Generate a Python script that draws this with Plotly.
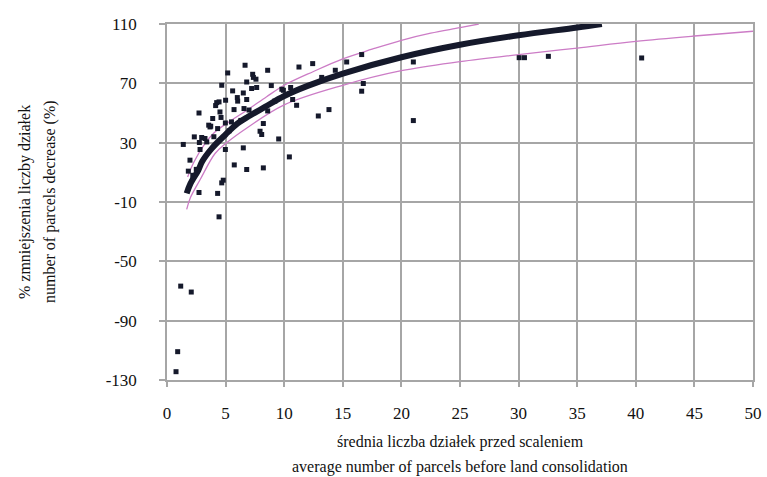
import plotly.graph_objects as go

# observed data points (average parcels before consolidation, % decrease)
obs_x = [6.66, 5.18, 8.59, 7.31, 7.59, 11.26, 12.43, 16.61, 15.33, 14.36, 21.02,
         4.67, 6.8, 7.22, 7.65, 8.9, 5.6, 6.51, 6.0, 6.8, 5.0, 4.24, 4.44, 9.93,
         10.55, 10.72, 11.06, 16.75, 16.61, 5.72, 6.57, 8.59, 2.73, 4.52, 3.9, 4.61,
         4.98, 3.56, 3.73, 4.32, 8.22, 12.91, 13.82, 21.02, 2.33, 2.96, 3.24, 2.76,
         1.39, 2.82, 4.98, 6.51, 7.94, 8.08, 9.53, 10.44, 1.96, 5.74, 6.8, 8.22,
         1.82, 4.67, 4.8, 2.73, 4.32, 4.44, 30.05, 30.5, 32.54, 40.5,
         1.17, 2.07, 0.91, 0.77, 4.15, 6.03, 7.37, 3.67, 3.39, 6.3, 5.3, 9.2, 2.5,
         4.0, 5.5, 7.0, 9.8, 13.2, 2.2]
obs_y = [82.2, 77.0, 78.8, 76.1, 72.8, 81.0, 83.3, 89.4, 84.4, 78.8, 84.4,
         68.7, 70.9, 66.5, 67.2, 68.5, 64.9, 63.5, 60.4, 59.1, 58.6, 57.0, 57.5, 65.3,
         67.2, 59.1, 55.2, 69.9, 64.7, 52.3, 53.0, 51.4, 50.0, 50.7, 46.3, 47.0,
         43.3, 41.8, 41.1, 39.5, 42.9, 48.0, 52.3, 44.9, 33.9, 33.5, 32.8, 30.1,
         28.8, 25.4, 25.4, 26.5, 37.7, 35.5, 32.5, 20.4, 18.2, 15.0, 11.9, 13.0,
         10.8, 2.9, 4.7, -3.6, -4.2, -20.0, 87.3, 87.3, 88.2, 87.1,
         -66.7, -70.7, -110.9, -124.4, 55.0, 58.0, 74.0, 40.6, 30.5, 45.0, 38.0, 58.0, 12.0,
         34.0, 44.0, 52.0, 66.0, 74.0, 8.0]

# fitted curve
fit_x = [1.68, 2.0, 2.67, 3.0, 3.81, 5.0, 6.0, 6.94, 8.36, 10.0, 12.0, 15.0, 20.0, 25.0, 30.0, 35.0, 37.1]
fit_y = [-4.2, 2.4, 11.4, 17.3, 26.0, 35.5, 42.8, 47.6, 54.1, 61.5, 68.3, 76.6, 87.6, 96.0, 102.4, 107.6, 110.0]

# upper and lower bands
upper_x = [1.76, 2.3, 3.24, 4.0, 5.0, 6.94, 8.5, 10.0, 12.5, 15.0, 17.5, 20.0, 22.5, 25.0, 26.6]
upper_y = [6.9, 17.0, 29.4, 36.5, 42.5, 52.5, 61.0, 68.7, 78.0, 86.5, 93.0, 99.0, 103.8, 107.5, 110.0]
lower_x = [1.68, 2.0, 2.82, 4.1, 5.0, 6.94, 10.0, 15.0, 20.0, 25.0, 30.0, 35.0, 40.0, 45.0, 50.0]
lower_y = [-15.0, -7.0, 5.0, 22.7, 29.4, 40.6, 55.5, 68.7, 78.5, 84.6, 89.4, 93.8, 98.3, 101.9, 105.1]

x_ticks = [0, 5, 10, 15, 20, 25, 30, 35, 40, 45, 50]
y_ticks = [-130, -90, -50, -10, 30, 70, 110]

dark = '#15192b'
pink = '#cc7cc6'
grid = '#a6a6a6'
font = 'Liberation Serif'

fig = go.Figure()
fig.add_trace(go.Scatter(x=lower_x, y=lower_y, mode='lines', line=dict(color=pink, width=1.3, shape='spline'),
                         hoverinfo='skip'))
fig.add_trace(go.Scatter(x=upper_x, y=upper_y, mode='lines', line=dict(color=pink, width=1.3, shape='spline'),
                         hoverinfo='skip'))
fig.add_trace(go.Scatter(x=obs_x, y=obs_y, mode='markers',
                         marker=dict(symbol='square', size=5, color=dark, line=dict(width=0))))
fig.add_trace(go.Scatter(x=fit_x, y=fit_y, mode='lines', line=dict(color=dark, width=6, shape='spline'),
                         cliponaxis=False))

fig.update_layout(
    width=767, height=477,
    margin=dict(l=167, r=14, t=24, b=97, autoexpand=False),
    paper_bgcolor='white', plot_bgcolor='white',
    showlegend=False,
    font=dict(family=font, size=17, color='#111111'),
)
fig.update_xaxes(range=[0, 50], tickvals=x_ticks, ticktext=[str(v) for v in x_ticks],
                 automargin=False,
                 showgrid=True, gridcolor=grid, gridwidth=1.5, zeroline=False,
                 showline=True, linecolor=grid, linewidth=1.5, mirror=True,
                 ticks='outside', ticklen=5, tickcolor=grid, tickwidth=1.5,
                 ticklabelstandoff=12, tickfont=dict(family=font, size=17))
fig.update_yaxes(range=[-130, 110], tickvals=y_ticks, ticktext=[str(v) for v in y_ticks],
                 automargin=False,
                 showgrid=True, gridcolor=grid, gridwidth=1.5, zeroline=False,
                 showline=True, linecolor=grid, linewidth=1.5, mirror=True,
                 ticks='outside', ticklen=6, tickcolor=grid, tickwidth=1.5,
                 ticklabelstandoff=19, tickfont=dict(family=font, size=17))

fig.add_annotation(text='średnia liczba działek przed scaleniem', xref='paper', yref='paper',
                   x=0.5, y=0, yshift=-62, showarrow=False, font=dict(family=font, size=16),
                   xanchor='center', yanchor='middle')
fig.add_annotation(text='average number of parcels before land consolidation', xref='paper', yref='paper',
                   x=0.5, y=0, yshift=-87, showarrow=False, font=dict(family=font, size=16),
                   xanchor='center', yanchor='middle')
fig.add_annotation(text='% zmniejszenia liczby działek', xref='paper', yref='paper',
                   x=0, y=0.5, xshift=-142, showarrow=False, textangle=-90,
                   font=dict(family=font, size=16), xanchor='center', yanchor='middle')
fig.add_annotation(text='number of parcels decrease (%)', xref='paper', yref='paper',
                   x=0, y=0.5, xshift=-117, showarrow=False, textangle=-90,
                   font=dict(family=font, size=16), xanchor='center', yanchor='middle')

fig.write_html('out.html', config={'displayModeBar': False},
               post_script="document.body.style.margin='0px';")
